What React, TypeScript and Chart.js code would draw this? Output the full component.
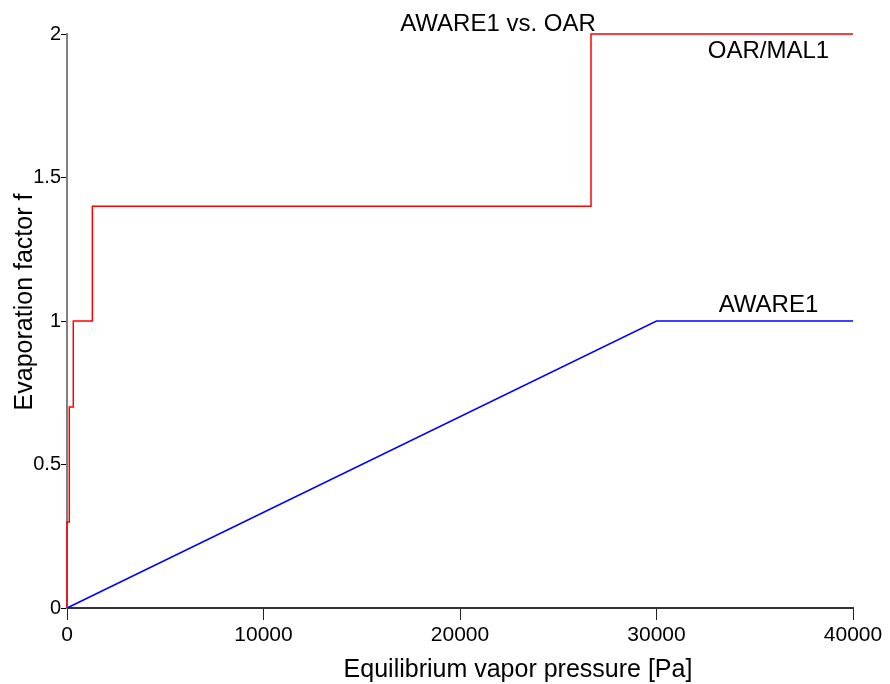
import React, { useEffect, useRef } from "react";
import { Chart, registerables } from "chart.js";

Chart.register(...registerables);

// OAR / MAL1 step function
const oarX = [0, 0, 117, 320, 1290, 26667, 40000];
const oarY = [0, 0.3, 0.7, 1.0, 1.4, 2.0, 2.0];

// AWARE1 linear ramp
const awareX = [0, 30000, 40000];
const awareY = [0, 1, 1];

const xTicks = [0, 10000, 20000, 30000, 40000];
const yTicks = [0, 0.5, 1, 1.5, 2];

const titleText = "AWARE1 vs. OAR";
const xTitle = "Equilibrium vapor pressure [Pa]";
const yTitle = "Evaporation factor f";
const oarLabel = "OAR/MAL1";
const awareLabel = "AWARE1";

const FONT = "'Liberation Sans', Arial, sans-serif";

const textPlugin = {
  id: "texts",
  afterDraw(chart: any) {
    const ctx = chart.ctx;
    const xs = chart.scales.x;
    const ys = chart.scales.y;
    ctx.save();
    ctx.fillStyle = "#000";
    ctx.textAlign = "center";
    ctx.textBaseline = "alphabetic";
    ctx.font = `24px ${FONT}`;
    ctx.fillText(titleText, 498, 31);
    ctx.fillText(oarLabel, xs.getPixelForValue(35700), ys.getPixelForValue(2) + 24);
    ctx.fillText(awareLabel, xs.getPixelForValue(35700), ys.getPixelForValue(1) - 9);
    ctx.font = `25px ${FONT}`;
    ctx.fillText(xTitle, 518, 677);
    ctx.translate(32, 302);
    ctx.rotate(-Math.PI / 2);
    ctx.fillText(yTitle, 0, 0);
    ctx.restore();
  },
};

export default function App() {
  const ref = useRef<HTMLCanvasElement>(null);
  useEffect(() => {
    if (!ref.current) return;
    const chart = new Chart(ref.current, {
      type: "line",
      data: {
        datasets: [
          {
            label: oarLabel,
            data: oarX.map((x, i) => ({ x, y: oarY[i] })),
            borderColor: "#ff0000",
            borderWidth: 1.5,
            pointRadius: 0,
            stepped: "before",
            fill: false,
            clip: false as any,
          },
          {
            label: awareLabel,
            data: awareX.map((x, i) => ({ x, y: awareY[i] })),
            borderColor: "#0000ff",
            borderWidth: 1.5,
            pointRadius: 0,
            tension: 0,
            fill: false,
            clip: false as any,
          },
        ],
      },
      options: {
        animation: false,
        responsive: true,
        maintainAspectRatio: false,
        layout: { padding: { left: 0, right: 37, top: 34, bottom: 0 } },
        plugins: {
          legend: { display: false },
          title: { display: false },
          tooltip: { enabled: false },
        },
        scales: {
          x: {
            type: "linear",
            min: 0,
            max: 40000,
            afterFit: (s: any) => {
              s.height = 76;
            },
            afterBuildTicks: (s: any) => {
              s.ticks = xTicks.map((v) => ({ value: v }));
            },
            ticks: {
              color: "#000",
              font: { family: FONT, size: 21 },
              padding: 3,
              maxRotation: 0,
              callback: (v: any) => String(v),
            },
            grid: {
              drawOnChartArea: false,
              drawTicks: true,
              tickLength: 12,
              color: "#222",
              lineWidth: 1,
            },
            border: { color: "#333", width: 2 },
          },
          y: {
            type: "linear",
            min: 0,
            max: 2,
            afterFit: (s: any) => {
              s.width = 67;
            },
            afterBuildTicks: (s: any) => {
              s.ticks = yTicks.map((v) => ({ value: v }));
            },
            ticks: {
              color: "#000",
              font: { family: FONT, size: 20 },
              padding: 0,
              callback: (v: any) => String(v),
            },
            grid: {
              drawOnChartArea: false,
              drawTicks: true,
              tickLength: 6,
              color: "#000",
              lineWidth: 1,
            },
            border: { color: "#808080", width: 2 },
          },
        },
      },
      plugins: [textPlugin],
    });
    return () => chart.destroy();
  }, []);
  return (
    <div style={{ position: "fixed", left: 0, top: 0, width: 890, height: 684, background: "#fff" }}>
      <canvas ref={ref} />
    </div>
  );
}
